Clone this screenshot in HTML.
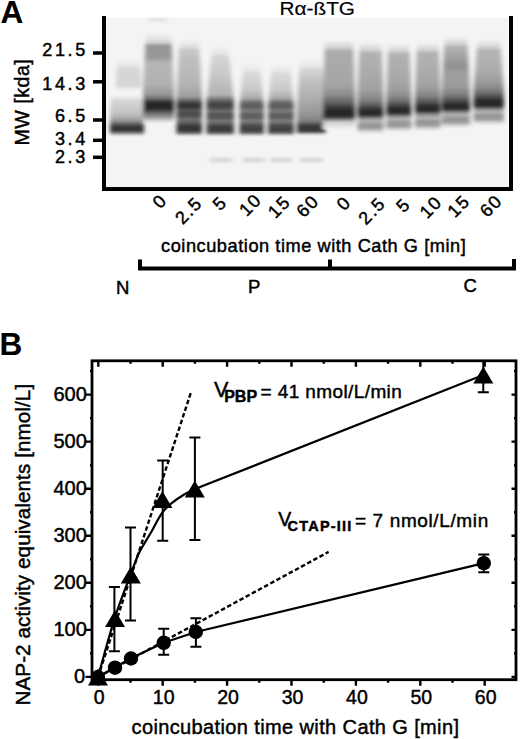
<!DOCTYPE html>
<html><head><meta charset="utf-8"><style>
html,body{margin:0;padding:0;background:#fff;width:520px;height:739px;overflow:hidden}
svg{display:block;font-family:"Liberation Sans", sans-serif;}
text{stroke:#000;stroke-width:0.45px}
</style></head><body>
<svg width="520" height="739" viewBox="0 0 520 739">
<defs>
<filter id="bl1" x="-20%" y="-50%" width="140%" height="200%"><feGaussianBlur stdDeviation="1.3"/></filter>
<filter id="bl2" x="-10%" y="-10%" width="120%" height="120%"><feGaussianBlur stdDeviation="2.3 1.2"/></filter>
<linearGradient id="lg0" gradientUnits="userSpaceOnUse" x1="0" y1="58" x2="0" y2="90"><stop offset="0.0000" stop-color="rgb(244,244,244)"/><stop offset="0.2500" stop-color="rgb(229,229,229)"/><stop offset="0.3438" stop-color="rgb(214,214,214)"/><stop offset="0.8750" stop-color="rgb(214,214,214)"/><stop offset="1.0000" stop-color="rgb(244,244,244)"/></linearGradient><linearGradient id="lg1" gradientUnits="userSpaceOnUse" x1="0" y1="96" x2="0" y2="136"><stop offset="0.0000" stop-color="rgb(244,244,244)"/><stop offset="0.1000" stop-color="rgb(215,215,215)"/><stop offset="0.4250" stop-color="rgb(195,195,195)"/><stop offset="0.6000" stop-color="rgb(160,160,160)"/><stop offset="0.7000" stop-color="rgb(95,95,95)"/><stop offset="0.7750" stop-color="rgb(52,52,52)"/><stop offset="0.8750" stop-color="rgb(58,58,58)"/><stop offset="0.9250" stop-color="rgb(125,125,125)"/><stop offset="1.0000" stop-color="rgb(244,244,244)"/></linearGradient><linearGradient id="lg2" gradientUnits="userSpaceOnUse" x1="0" y1="33" x2="0" y2="123"><stop offset="0.0000" stop-color="rgb(244,244,244)"/><stop offset="0.0889" stop-color="rgb(219,219,219)"/><stop offset="0.1222" stop-color="rgb(195,195,195)"/><stop offset="0.1333" stop-color="rgb(150,150,150)"/><stop offset="0.2667" stop-color="rgb(152,152,152)"/><stop offset="0.3333" stop-color="rgb(182,182,182)"/><stop offset="0.5667" stop-color="rgb(178,178,178)"/><stop offset="0.6889" stop-color="rgb(150,150,150)"/><stop offset="0.7333" stop-color="rgb(105,105,105)"/><stop offset="0.7667" stop-color="rgb(45,45,45)"/><stop offset="0.8222" stop-color="rgb(35,35,35)"/><stop offset="0.8556" stop-color="rgb(55,55,55)"/><stop offset="0.8889" stop-color="rgb(105,105,105)"/><stop offset="0.9333" stop-color="rgb(150,150,150)"/><stop offset="0.9667" stop-color="rgb(200,200,200)"/><stop offset="1.0000" stop-color="rgb(244,244,244)"/></linearGradient><linearGradient id="lg3" gradientUnits="userSpaceOnUse" x1="0" y1="39" x2="0" y2="136"><stop offset="0.0000" stop-color="rgb(244,244,244)"/><stop offset="0.0825" stop-color="rgb(222,222,222)"/><stop offset="0.1134" stop-color="rgb(200,200,200)"/><stop offset="0.2165" stop-color="rgb(190,190,190)"/><stop offset="0.4742" stop-color="rgb(180,180,180)"/><stop offset="0.5979" stop-color="rgb(155,155,155)"/><stop offset="0.6392" stop-color="rgb(90,90,90)"/><stop offset="0.6701" stop-color="rgb(50,50,50)"/><stop offset="0.7113" stop-color="rgb(55,55,55)"/><stop offset="0.7320" stop-color="rgb(90,90,90)"/><stop offset="0.7629" stop-color="rgb(75,75,75)"/><stop offset="0.7938" stop-color="rgb(78,78,78)"/><stop offset="0.8247" stop-color="rgb(115,115,115)"/><stop offset="0.8660" stop-color="rgb(95,95,95)"/><stop offset="0.8969" stop-color="rgb(55,55,55)"/><stop offset="0.9381" stop-color="rgb(50,50,50)"/><stop offset="0.9691" stop-color="rgb(95,95,95)"/><stop offset="1.0000" stop-color="rgb(244,244,244)"/></linearGradient><linearGradient id="lg4" gradientUnits="userSpaceOnUse" x1="0" y1="46" x2="0" y2="136"><stop offset="0.0000" stop-color="rgb(244,244,244)"/><stop offset="0.0889" stop-color="rgb(228,228,228)"/><stop offset="0.1222" stop-color="rgb(212,212,212)"/><stop offset="0.3222" stop-color="rgb(200,200,200)"/><stop offset="0.5444" stop-color="rgb(178,178,178)"/><stop offset="0.6000" stop-color="rgb(105,105,105)"/><stop offset="0.6444" stop-color="rgb(65,65,65)"/><stop offset="0.6889" stop-color="rgb(72,72,72)"/><stop offset="0.7222" stop-color="rgb(115,115,115)"/><stop offset="0.7556" stop-color="rgb(82,82,82)"/><stop offset="0.8000" stop-color="rgb(85,85,85)"/><stop offset="0.8333" stop-color="rgb(125,125,125)"/><stop offset="0.8778" stop-color="rgb(75,75,75)"/><stop offset="0.9222" stop-color="rgb(55,55,55)"/><stop offset="0.9667" stop-color="rgb(85,85,85)"/><stop offset="1.0000" stop-color="rgb(244,244,244)"/></linearGradient><linearGradient id="lg5" gradientUnits="userSpaceOnUse" x1="0" y1="62" x2="0" y2="136"><stop offset="0.0000" stop-color="rgb(244,244,244)"/><stop offset="0.1081" stop-color="rgb(231,231,231)"/><stop offset="0.1486" stop-color="rgb(218,218,218)"/><stop offset="0.3784" stop-color="rgb(200,200,200)"/><stop offset="0.4865" stop-color="rgb(172,172,172)"/><stop offset="0.5405" stop-color="rgb(112,112,112)"/><stop offset="0.5811" stop-color="rgb(90,90,90)"/><stop offset="0.6216" stop-color="rgb(100,100,100)"/><stop offset="0.6622" stop-color="rgb(130,130,130)"/><stop offset="0.7027" stop-color="rgb(92,92,92)"/><stop offset="0.7568" stop-color="rgb(95,95,95)"/><stop offset="0.7973" stop-color="rgb(130,130,130)"/><stop offset="0.8514" stop-color="rgb(80,80,80)"/><stop offset="0.9054" stop-color="rgb(60,60,60)"/><stop offset="0.9595" stop-color="rgb(88,88,88)"/><stop offset="1.0000" stop-color="rgb(244,244,244)"/></linearGradient><linearGradient id="lg6" gradientUnits="userSpaceOnUse" x1="0" y1="63" x2="0" y2="136"><stop offset="0.0000" stop-color="rgb(244,244,244)"/><stop offset="0.1096" stop-color="rgb(231,231,231)"/><stop offset="0.1507" stop-color="rgb(218,218,218)"/><stop offset="0.3699" stop-color="rgb(200,200,200)"/><stop offset="0.4795" stop-color="rgb(172,172,172)"/><stop offset="0.5342" stop-color="rgb(112,112,112)"/><stop offset="0.5753" stop-color="rgb(90,90,90)"/><stop offset="0.6164" stop-color="rgb(100,100,100)"/><stop offset="0.6575" stop-color="rgb(130,130,130)"/><stop offset="0.6986" stop-color="rgb(92,92,92)"/><stop offset="0.7534" stop-color="rgb(95,95,95)"/><stop offset="0.7945" stop-color="rgb(130,130,130)"/><stop offset="0.8493" stop-color="rgb(80,80,80)"/><stop offset="0.9041" stop-color="rgb(60,60,60)"/><stop offset="0.9589" stop-color="rgb(88,88,88)"/><stop offset="1.0000" stop-color="rgb(244,244,244)"/></linearGradient><linearGradient id="lg7" gradientUnits="userSpaceOnUse" x1="0" y1="59" x2="0" y2="135"><stop offset="0.0000" stop-color="rgb(244,244,244)"/><stop offset="0.1053" stop-color="rgb(228,228,228)"/><stop offset="0.1447" stop-color="rgb(212,212,212)"/><stop offset="0.2763" stop-color="rgb(195,195,195)"/><stop offset="0.5395" stop-color="rgb(172,172,172)"/><stop offset="0.7368" stop-color="rgb(148,148,148)"/><stop offset="0.8158" stop-color="rgb(128,128,128)"/><stop offset="0.8684" stop-color="rgb(68,68,68)"/><stop offset="0.9211" stop-color="rgb(50,50,50)"/><stop offset="0.9605" stop-color="rgb(70,70,70)"/><stop offset="1.0000" stop-color="rgb(244,244,244)"/></linearGradient><linearGradient id="lg8" gradientUnits="userSpaceOnUse" x1="0" y1="40" x2="0" y2="129"><stop offset="0.0000" stop-color="rgb(244,244,244)"/><stop offset="0.0899" stop-color="rgb(208,208,208)"/><stop offset="0.1236" stop-color="rgb(172,172,172)"/><stop offset="0.3371" stop-color="rgb(168,168,168)"/><stop offset="0.5056" stop-color="rgb(165,165,165)"/><stop offset="0.6180" stop-color="rgb(140,140,140)"/><stop offset="0.7079" stop-color="rgb(95,95,95)"/><stop offset="0.7640" stop-color="rgb(55,55,55)"/><stop offset="0.8090" stop-color="rgb(38,38,38)"/><stop offset="0.8539" stop-color="rgb(38,38,38)"/><stop offset="0.8876" stop-color="rgb(110,110,110)"/><stop offset="0.9213" stop-color="rgb(205,205,205)"/><stop offset="0.9663" stop-color="rgb(225,225,225)"/><stop offset="1.0000" stop-color="rgb(244,244,244)"/></linearGradient><linearGradient id="lg9" gradientUnits="userSpaceOnUse" x1="0" y1="42" x2="0" y2="134"><stop offset="0.0000" stop-color="rgb(244,244,244)"/><stop offset="0.0870" stop-color="rgb(211,211,211)"/><stop offset="0.1196" stop-color="rgb(178,178,178)"/><stop offset="0.3587" stop-color="rgb(170,170,170)"/><stop offset="0.5217" stop-color="rgb(160,160,160)"/><stop offset="0.6304" stop-color="rgb(130,130,130)"/><stop offset="0.6957" stop-color="rgb(85,85,85)"/><stop offset="0.7391" stop-color="rgb(45,45,45)"/><stop offset="0.7935" stop-color="rgb(40,40,40)"/><stop offset="0.8261" stop-color="rgb(130,130,130)"/><stop offset="0.8587" stop-color="rgb(185,185,185)"/><stop offset="0.8913" stop-color="rgb(150,150,150)"/><stop offset="0.9348" stop-color="rgb(152,152,152)"/><stop offset="0.9674" stop-color="rgb(205,205,205)"/><stop offset="1.0000" stop-color="rgb(244,244,244)"/></linearGradient><linearGradient id="lg10" gradientUnits="userSpaceOnUse" x1="0" y1="43" x2="0" y2="132"><stop offset="0.0000" stop-color="rgb(244,244,244)"/><stop offset="0.0899" stop-color="rgb(211,211,211)"/><stop offset="0.1236" stop-color="rgb(178,178,178)"/><stop offset="0.3596" stop-color="rgb(170,170,170)"/><stop offset="0.5281" stop-color="rgb(158,158,158)"/><stop offset="0.6180" stop-color="rgb(130,130,130)"/><stop offset="0.6854" stop-color="rgb(85,85,85)"/><stop offset="0.7303" stop-color="rgb(45,45,45)"/><stop offset="0.7865" stop-color="rgb(40,40,40)"/><stop offset="0.8202" stop-color="rgb(130,130,130)"/><stop offset="0.8539" stop-color="rgb(185,185,185)"/><stop offset="0.8876" stop-color="rgb(150,150,150)"/><stop offset="0.9326" stop-color="rgb(152,152,152)"/><stop offset="0.9663" stop-color="rgb(205,205,205)"/><stop offset="1.0000" stop-color="rgb(244,244,244)"/></linearGradient><linearGradient id="lg11" gradientUnits="userSpaceOnUse" x1="0" y1="42" x2="0" y2="131"><stop offset="0.0000" stop-color="rgb(244,244,244)"/><stop offset="0.0899" stop-color="rgb(211,211,211)"/><stop offset="0.1236" stop-color="rgb(178,178,178)"/><stop offset="0.3708" stop-color="rgb(170,170,170)"/><stop offset="0.5169" stop-color="rgb(158,158,158)"/><stop offset="0.6067" stop-color="rgb(130,130,130)"/><stop offset="0.6742" stop-color="rgb(85,85,85)"/><stop offset="0.7191" stop-color="rgb(45,45,45)"/><stop offset="0.7753" stop-color="rgb(40,40,40)"/><stop offset="0.8090" stop-color="rgb(130,130,130)"/><stop offset="0.8539" stop-color="rgb(185,185,185)"/><stop offset="0.8876" stop-color="rgb(150,150,150)"/><stop offset="0.9326" stop-color="rgb(152,152,152)"/><stop offset="0.9663" stop-color="rgb(205,205,205)"/><stop offset="1.0000" stop-color="rgb(244,244,244)"/></linearGradient><linearGradient id="lg12" gradientUnits="userSpaceOnUse" x1="0" y1="36" x2="0" y2="128"><stop offset="0.0000" stop-color="rgb(244,244,244)"/><stop offset="0.0870" stop-color="rgb(211,211,211)"/><stop offset="0.1196" stop-color="rgb(178,178,178)"/><stop offset="0.2391" stop-color="rgb(160,160,160)"/><stop offset="0.3261" stop-color="rgb(146,146,146)"/><stop offset="0.4239" stop-color="rgb(160,160,160)"/><stop offset="0.5435" stop-color="rgb(156,156,156)"/><stop offset="0.6304" stop-color="rgb(130,130,130)"/><stop offset="0.6957" stop-color="rgb(85,85,85)"/><stop offset="0.7391" stop-color="rgb(45,45,45)"/><stop offset="0.7935" stop-color="rgb(40,40,40)"/><stop offset="0.8261" stop-color="rgb(130,130,130)"/><stop offset="0.8587" stop-color="rgb(185,185,185)"/><stop offset="0.8913" stop-color="rgb(150,150,150)"/><stop offset="0.9348" stop-color="rgb(152,152,152)"/><stop offset="0.9674" stop-color="rgb(205,205,205)"/><stop offset="1.0000" stop-color="rgb(244,244,244)"/></linearGradient><linearGradient id="lg13" gradientUnits="userSpaceOnUse" x1="0" y1="39" x2="0" y2="125"><stop offset="0.0000" stop-color="rgb(244,244,244)"/><stop offset="0.0930" stop-color="rgb(213,213,213)"/><stop offset="0.1279" stop-color="rgb(182,182,182)"/><stop offset="0.3605" stop-color="rgb(172,172,172)"/><stop offset="0.5000" stop-color="rgb(156,156,156)"/><stop offset="0.5930" stop-color="rgb(130,130,130)"/><stop offset="0.6628" stop-color="rgb(85,85,85)"/><stop offset="0.7093" stop-color="rgb(45,45,45)"/><stop offset="0.7791" stop-color="rgb(40,40,40)"/><stop offset="0.8140" stop-color="rgb(130,130,130)"/><stop offset="0.8488" stop-color="rgb(185,185,185)"/><stop offset="0.8837" stop-color="rgb(150,150,150)"/><stop offset="0.9302" stop-color="rgb(152,152,152)"/><stop offset="0.9651" stop-color="rgb(205,205,205)"/><stop offset="1.0000" stop-color="rgb(244,244,244)"/></linearGradient>
</defs>
<rect width="520" height="739" fill="#fff"/>
<text x="0.5" y="23" font-size="31.5" font-weight="bold" style="stroke-width:0.1px">A</text>
<text x="279.5" y="15" font-size="18" style="stroke-width:0.15px" textLength="75.5" lengthAdjust="spacingAndGlyphs">R&#945;-&#223;TG</text>
<rect x="106" y="17.5" width="402.5" height="170" fill="#f4f4f4"/>
<g filter="url(#bl2)">
<path d="M118,58 L139,58 L141,77.2 L141,90 L116,90 L116,77.2 Z" fill="url(#lg0)"/>
<path d="M111,96 L143,96 L144,120.0 L144,136 L110,136 L110,120.0 Z" fill="url(#lg1)"/>
<path d="M146,33 L171,33 L174,87.0 L174,123 L143,123 L143,87.0 Z" fill="url(#lg2)"/>
<path d="M179.5,39 L199,39 L202,97.2 L202,136 L176.5,136 L176.5,97.2 Z" fill="url(#lg3)"/>
<path d="M212.5,46 L228,46 L234,100.0 L234,136 L206.5,136 L206.5,100.0 Z" fill="url(#lg4)"/>
<path d="M243.5,62 L260,62 L264,106.4 L264,136 L239.5,136 L239.5,106.4 Z" fill="url(#lg5)"/>
<path d="M272,63 L290,63 L294,106.8 L294,136 L268,136 L268,106.8 Z" fill="url(#lg6)"/>
<path d="M300,59 L322.5,59 L325.5,104.6 L325.5,135 L297,135 L297,104.6 Z" fill="url(#lg7)"/>
<path d="M325,40 L353,40 L355,93.4 L355,129 L323,129 L323,93.4 Z" fill="url(#lg8)"/>
<path d="M359.5,42 L381.5,42 L383.5,97.2 L383.5,134 L357.5,134 L357.5,97.2 Z" fill="url(#lg9)"/>
<path d="M388.3,43 L409.3,43 L411.3,96.4 L411.3,132 L386.3,132 L386.3,96.4 Z" fill="url(#lg10)"/>
<path d="M417,42 L438.5,42 L440.5,95.4 L440.5,131 L415,131 L415,95.4 Z" fill="url(#lg11)"/>
<path d="M444.7,36 L467,36 L470,91.2 L470,128 L441.7,128 L441.7,91.2 Z" fill="url(#lg12)"/>
<path d="M477.5,39 L500,39 L504,90.6 L504,125 L473.5,125 L473.5,90.6 Z" fill="url(#lg13)"/>
</g>
<g filter="url(#bl2)" fill="#d9d9d9">
<rect x="210" y="157.5" width="22" height="5"/>
<rect x="243" y="157.5" width="21" height="5"/>
<rect x="271" y="157.5" width="21" height="5"/>
<rect x="300" y="157.5" width="22" height="5"/>
<rect x="150" y="18" width="17" height="4" fill="#e4e4e4"/>
</g>
<path d="M104,16 V189 H511 V16" fill="none" stroke="#000" stroke-width="4"/>
<line x1="93" y1="53" x2="104" y2="53" stroke="#000" stroke-width="3.5"/>
<line x1="93" y1="81.8" x2="104" y2="81.8" stroke="#000" stroke-width="3.5"/>
<line x1="93" y1="120" x2="104" y2="120" stroke="#000" stroke-width="3.5"/>
<line x1="93" y1="140.3" x2="104" y2="140.3" stroke="#000" stroke-width="3.5"/>
<line x1="93" y1="157.3" x2="104" y2="157.3" stroke="#000" stroke-width="3.5"/>
<text x="87.8" y="56.1" font-size="18" text-anchor="end" letter-spacing="2.6">21.5</text>
<text x="87.8" y="89.8" font-size="18" text-anchor="end" letter-spacing="2.6">14.3</text>
<text x="87.8" y="122.3" font-size="18" text-anchor="end" letter-spacing="2.6">6.5</text>
<text x="87.8" y="145.4" font-size="18" text-anchor="end" letter-spacing="2.6">3.4</text>
<text x="87.8" y="163.2" font-size="18" text-anchor="end" letter-spacing="2.6">2.3</text>
<text transform="translate(29.4,145.5) rotate(-90)" font-size="19.6" letter-spacing="0.5">MW [kda]</text>
<text transform="translate(159.2,201.5) rotate(-46)" font-size="18" text-anchor="middle" letter-spacing="1.6" dx="0.8" dy="6.4">0</text>
<text transform="translate(188,210.7) rotate(-46)" font-size="18" text-anchor="middle" letter-spacing="1.6" dx="0.8" dy="6.4">2.5</text>
<text transform="translate(219,203.5) rotate(-46)" font-size="18" text-anchor="middle" letter-spacing="1.6" dx="0.8" dy="6.4">5</text>
<text transform="translate(249.7,205) rotate(-46)" font-size="18" text-anchor="middle" letter-spacing="1.6" dx="0.8" dy="6.4">10</text>
<text transform="translate(278.5,207) rotate(-46)" font-size="18" text-anchor="middle" letter-spacing="1.6" dx="0.8" dy="6.4">15</text>
<text transform="translate(307,206.3) rotate(-46)" font-size="18" text-anchor="middle" letter-spacing="1.6" dx="0.8" dy="6.4">60</text>
<text transform="translate(343,203.5) rotate(-46)" font-size="18" text-anchor="middle" letter-spacing="1.6" dx="0.8" dy="6.4">0</text>
<text transform="translate(371.3,211.1) rotate(-46)" font-size="18" text-anchor="middle" letter-spacing="1.6" dx="0.8" dy="6.4">2.5</text>
<text transform="translate(402.7,205.4) rotate(-46)" font-size="18" text-anchor="middle" letter-spacing="1.6" dx="0.8" dy="6.4">5</text>
<text transform="translate(430.2,207.3) rotate(-46)" font-size="18" text-anchor="middle" letter-spacing="1.6" dx="0.8" dy="6.4">10</text>
<text transform="translate(458,206.3) rotate(-46)" font-size="18" text-anchor="middle" letter-spacing="1.6" dx="0.8" dy="6.4">15</text>
<text transform="translate(490.3,206) rotate(-46)" font-size="18" text-anchor="middle" letter-spacing="1.6" dx="0.8" dy="6.4">60</text>
<text x="161" y="251.5" font-size="18.2" letter-spacing="0.55">coincubation time with Cath G [min]</text>
<path d="M140,259.5 V268.5 H514 V259 M330,259.5 V268.5" fill="none" stroke="#000" stroke-width="4"/>
<text x="116" y="293.8" font-size="18.5">N</text>
<text x="248" y="293" font-size="18.5">P</text>
<text x="463.5" y="292.2" font-size="18.5">C</text>
<text x="-0.6" y="355.2" font-size="31.5" font-weight="bold" style="stroke-width:0.1px">B</text>
<rect x="92" y="360.8" width="424" height="318.9" fill="none" stroke="#000" stroke-width="2.8"/>
<path d="M98.3,360.8 v6 M98.3,679.7 v6 M130.5,360.8 v3 M130.5,679.7 v3 M162.7,360.8 v6 M162.7,679.7 v6 M194.9,360.8 v3 M194.9,679.7 v3 M227.1,360.8 v6 M227.1,679.7 v6 M259.3,360.8 v3 M259.3,679.7 v3 M291.5,360.8 v6 M291.5,679.7 v6 M323.7,360.8 v3 M323.7,679.7 v3 M355.9,360.8 v6 M355.9,679.7 v6 M388.1,360.8 v3 M388.1,679.7 v3 M420.3,360.8 v6 M420.3,679.7 v6 M452.5,360.8 v3 M452.5,679.7 v3 M484.7,360.8 v6 M484.7,679.7 v6 M92,676.9 h-6.5 M516,676.9 h-4.5 M92,653.4 h-2 M516,653.4 h-2 M92,629.9 h-6.5 M516,629.9 h-4.5 M92,606.3 h-2 M516,606.3 h-2 M92,582.8 h-6.5 M516,582.8 h-4.5 M92,559.3 h-2 M516,559.3 h-2 M92,535.8 h-6.5 M516,535.8 h-4.5 M92,512.2 h-2 M516,512.2 h-2 M92,488.7 h-6.5 M516,488.7 h-4.5 M92,465.2 h-2 M516,465.2 h-2 M92,441.6 h-6.5 M516,441.6 h-4.5 M92,418.1 h-2 M516,418.1 h-2 M92,394.6 h-6.5 M516,394.6 h-4.5 M92,371.1 h-2 M516,371.1 h-2" stroke="#000" stroke-width="2.4" fill="none"/>
<text x="85" y="683.2" font-size="20" text-anchor="end">0</text>
<text x="86.8" y="636.1" font-size="20" text-anchor="end">100</text>
<text x="86.8" y="589.1" font-size="20" text-anchor="end">200</text>
<text x="86.8" y="542.0" font-size="20" text-anchor="end">300</text>
<text x="86.8" y="495.0" font-size="20" text-anchor="end">400</text>
<text x="86.8" y="447.9" font-size="20" text-anchor="end">500</text>
<text x="86.8" y="400.9" font-size="20" text-anchor="end">600</text>
<text x="99.3" y="704" font-size="19.5" text-anchor="middle">0</text>
<text x="163.7" y="704" font-size="19.5" text-anchor="middle">10</text>
<text x="228.1" y="704" font-size="19.5" text-anchor="middle">20</text>
<text x="292.5" y="704" font-size="19.5" text-anchor="middle">30</text>
<text x="356.9" y="704" font-size="19.5" text-anchor="middle">40</text>
<text x="421.3" y="704" font-size="19.5" text-anchor="middle">50</text>
<text x="485.7" y="704" font-size="19.5" text-anchor="middle">60</text>
<text x="131.5" y="733.5" font-size="20" letter-spacing="0.38">coincubation time with Cath G [min]</text>
<text transform="translate(30,705.5) rotate(-90)" font-size="20.6" letter-spacing="0.1">NAP-2 activity equivalents [nmol/L]</text>
<text x="214" y="397" font-size="21.6">V</text>
<text x="224.2" y="402.2" font-size="16" font-weight="bold">PBP</text>
<text x="260.5" y="397.9" font-size="19" letter-spacing="0.4">= 41 nmol/L/min</text>
<text x="278.3" y="525.9" font-size="19.5">V</text>
<text x="287.6" y="531.1" font-size="14.5" font-weight="bold" letter-spacing="1.2">CTAP-III</text>
<text x="355" y="526.9" font-size="19" letter-spacing="0.62">= 7 nmol/L/min</text>
<path d="M98,677 L191.3,391.3" stroke="#000" stroke-width="2.4" stroke-dasharray="4.5,2.5" fill="none"/>
<path d="M98,677 L328.6,551.9" stroke="#000" stroke-width="2.4" stroke-dasharray="4.5,2.5" fill="none"/>
<path d="M98.0,677.0 C100.7,667.3 109.0,636.0 114.4,619.0 C119.8,602.0 126.4,586.0 130.5,575.0 C134.6,564.0 135.7,559.9 139.0,553.0 C142.3,546.1 146.4,540.4 150.2,533.8 C154.0,527.2 158.2,518.5 161.6,513.6 C165.0,508.7 166.7,507.3 170.4,504.2 C174.1,501.1 179.7,497.3 183.8,494.8 C187.9,492.3 193.1,490.1 195.0,489.1 L483.3,375" stroke="#000" stroke-width="2.2" fill="none"/>
<path d="M98,677 L114.4,667.7 L130.5,658.5 L163.7,642.8 L195.8,632 L484,563.1" stroke="#000" stroke-width="2.2" fill="none"/>
<path d="M114.4,587.0 V651.3 M108.9,587.0 h11 M108.9,651.3 h11 M130.5,527.5 V620.6 M125.0,527.5 h11 M125.0,620.6 h11 M162.7,460.5 V540.8 M157.2,460.5 h11 M157.2,540.8 h11 M194.9,437.5 V540.0 M189.4,437.5 h11 M189.4,540.0 h11 M483.3,361 V392.3 M477.8,392.3 h11 M163.7,628.7 V654.8 M158.2,628.7 h11 M158.2,654.8 h11 M195.9,618.3 V646.7 M190.4,618.3 h11 M190.4,646.7 h11 M483.8,554.6 V572.3 M478.3,554.6 h11 M478.3,572.3 h11" stroke="#000" stroke-width="2" fill="none"/>
<path d="M98.0,668.5 L108.0,685.5 L88.0,685.5 Z" fill="#000"/>
<path d="M115.0,610.1 L125.0,627.1 L105.0,627.1 Z" fill="#000"/>
<path d="M130.8,566.4 L140.8,583.4 L120.8,583.4 Z" fill="#000"/>
<path d="M162.4,491.0 L172.4,508.0 L152.4,508.0 Z" fill="#000"/>
<path d="M194.8,480.6 L204.8,497.6 L184.8,497.6 Z" fill="#000"/>
<path d="M483.3,366.5 L493.3,383.5 L473.3,383.5 Z" fill="#000"/>
<circle cx="98" cy="677" r="7.2" fill="#000"/>
<circle cx="115" cy="667.7" r="7.2" fill="#000"/>
<circle cx="131" cy="658.5" r="7.2" fill="#000"/>
<circle cx="163.7" cy="642.8" r="7.2" fill="#000"/>
<circle cx="195.8" cy="632" r="7.2" fill="#000"/>
<circle cx="483.8" cy="563.1" r="7.2" fill="#000"/>
</svg>
</body></html>
